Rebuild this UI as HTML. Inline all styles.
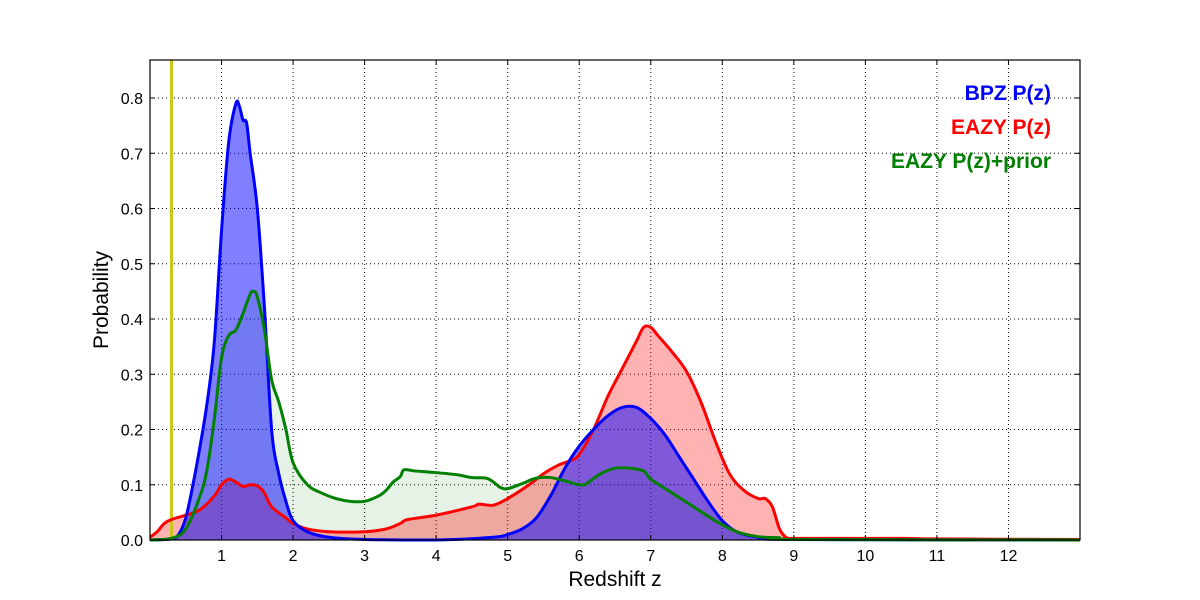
<!DOCTYPE html>
<html><head><meta charset="utf-8"><style>
html,body{margin:0;padding:0;background:#fff;}
svg{display:block;font-family:"Liberation Sans","DejaVu Sans",sans-serif;}
</style></head><body>
<svg id="chart" width="1200" height="600" viewBox="0 0 1200 600">
<g id="grid"></g>
<g id="fills"></g>
<line x1="171.5" y1="60" x2="171.5" y2="540" stroke="#c8c81a" stroke-width="3"/>
<g id="lines"></g>
<rect x="150" y="60" width="930" height="480" fill="none" stroke="#000" stroke-width="1.2"/>
<g id="ticks"></g>
<text x="615" y="586" font-size="21" text-anchor="middle">Redshift z</text>
<text transform="translate(108,300) rotate(-90)" font-size="21" text-anchor="middle">Probability</text>
<g font-size="21" font-weight="bold" text-anchor="end">
<text x="1051" y="100" fill="#0000ff">BPZ P(z)</text>
<text x="1051" y="134" fill="#ff0000">EAZY P(z)</text>
<text x="1051" y="168" fill="#007f00">EAZY P(z)+prior</text>
</g>
</svg>
<script>
const xTicks=[1,2,3,4,5,6,7,8,9,10,11,12];
const yTicks=[0.0,0.1,0.2,0.3,0.4,0.5,0.6,0.7,0.8];
const bpzZ=[0,0.3,0.4,0.5,0.6,0.7,0.8,0.9,1.0,1.1,1.2,1.25,1.3,1.35,1.4,1.5,1.6,1.7,1.8,1.9,2.0,2.2,2.5,3,4,4.8,5,5.2,5.4,5.6,5.8,6.0,6.2,6.4,6.6,6.8,7.0,7.2,7.4,7.6,7.8,8.0,8.2,8.5,9,13];
const bpzP=[0,0.002,0.01,0.04,0.1,0.17,0.25,0.36,0.56,0.72,0.79,0.785,0.76,0.755,0.7,0.6,0.42,0.2,0.12,0.07,0.035,0.015,0.005,0.001,0,0.005,0.01,0.02,0.04,0.08,0.13,0.17,0.2,0.225,0.24,0.24,0.22,0.19,0.15,0.11,0.07,0.035,0.015,0.005,0.001,0];
const eazyZ=[0,0.1,0.2,0.3,0.5,0.7,0.9,1.0,1.1,1.2,1.3,1.4,1.5,1.6,1.7,1.9,2.0,2.2,2.5,3.0,3.3,3.5,3.6,4.0,4.5,4.6,4.8,5.0,5.3,5.5,5.7,5.9,6.0,6.2,6.4,6.6,6.8,6.9,7.0,7.1,7.3,7.5,7.7,7.9,8.1,8.3,8.5,8.6,8.7,8.8,8.9,9.0,10.5,11,13];
const eazyP=[0.005,0.015,0.03,0.037,0.045,0.055,0.08,0.1,0.11,0.105,0.097,0.1,0.098,0.085,0.06,0.04,0.03,0.02,0.015,0.015,0.02,0.03,0.037,0.045,0.06,0.065,0.063,0.075,0.1,0.12,0.135,0.145,0.155,0.2,0.26,0.31,0.36,0.385,0.385,0.37,0.34,0.305,0.25,0.18,0.12,0.09,0.075,0.075,0.06,0.02,0.004,0.003,0.003,0.002,0.001];
const priorZ=[0,0.3,0.5,0.7,0.8,0.9,1.0,1.1,1.2,1.3,1.4,1.45,1.5,1.6,1.7,1.8,1.9,2.0,2.2,2.4,2.6,2.8,3.0,3.2,3.3,3.4,3.5,3.55,3.7,4.0,4.3,4.5,4.7,4.8,4.9,5.0,5.2,5.4,5.6,5.8,6.0,6.1,6.3,6.5,6.7,6.9,7.0,7.3,7.6,7.9,8.2,8.5,8.8,9.0,13];
const priorP=[0,0.003,0.02,0.08,0.13,0.22,0.33,0.37,0.38,0.41,0.445,0.45,0.44,0.38,0.29,0.25,0.2,0.14,0.1,0.085,0.075,0.07,0.07,0.08,0.09,0.105,0.115,0.127,0.125,0.122,0.118,0.113,0.112,0.105,0.095,0.093,0.102,0.112,0.113,0.107,0.1,0.102,0.12,0.13,0.13,0.125,0.11,0.085,0.06,0.035,0.015,0.006,0.004,0.001,0];

const X0=150,X1=1080,Y0=540,Y1=60,ZMAX=13,PMAX=0.8688;
function sx(z){return X0+(z/ZMAX)*(X1-X0);}
function sy(p){return Y0-(p/PMAX)*(Y0-Y1);}
const NS='http://www.w3.org/2000/svg';
function mk(tag,attrs,parent){const e=document.createElementNS(NS,tag);for(const k in attrs)e.setAttribute(k,attrs[k]);parent.appendChild(e);return e;}
function pathD(zs,ps){
  const pts=zs.map((z,i)=>[sx(z),sy(ps[i])]);
  let d='M'+pts[0][0]+','+pts[0][1];
  for(let i=0;i<pts.length-1;i++){
    const p0=pts[Math.max(0,i-1)],p1=pts[i],p2=pts[i+1],p3=pts[Math.min(pts.length-1,i+2)];
    const c1x=p1[0]+(p2[0]-p0[0])/6,c1y=Math.min(Y0,p1[1]+(p2[1]-p0[1])/6);
    const c2x=p2[0]-(p3[0]-p1[0])/6,c2y=Math.min(Y0,p2[1]-(p3[1]-p1[1])/6);
    d+=' C'+c1x+','+c1y+' '+c2x+','+c2y+' '+p2[0]+','+p2[1];
  }
  return d;
}
const grid=document.getElementById('grid'),ticks=document.getElementById('ticks');
xTicks.forEach(t=>{
  const x=sx(t);
  const g=mk('line',{x1:x,y1:Y1,x2:x,y2:Y0,stroke:'#000','stroke-width':1,'stroke-dasharray':'1,3'},grid);
  
  
  mk('line',{x1:x,y1:Y0,x2:x,y2:Y0-5,stroke:'#000'},ticks);
  mk('line',{x1:x,y1:Y1,x2:x,y2:Y1+5,stroke:'#000'},ticks);
  const tx=mk('text',{x:x,y:Y0+21,'font-size':16,'text-anchor':'middle'},ticks);
  tx.textContent=String(t);
  
  
});
yTicks.forEach(t=>{
  const y=sy(t);
  const g=mk('line',{x1:X0,y1:y,x2:X1,y2:y,stroke:'#000','stroke-width':1,'stroke-dasharray':'1,3'},grid);
  
  
  mk('line',{x1:X0,y1:y,x2:X0+5,y2:y,stroke:'#000'},ticks);
  mk('line',{x1:X1,y1:y,x2:X1-5,y2:y,stroke:'#000'},ticks);
  const tx=mk('text',{x:X0-7,y:y+6,'font-size':16,'text-anchor':'end'},ticks);
  tx.textContent=t.toFixed(1);
  
  
});
const series=[
  {z:priorZ,p:priorP,c:'#007f00',o:0.1,n:'eazy-prior'},
  {z:eazyZ,p:eazyP,c:'#ff0000',o:0.3,n:'eazy'},
  {z:bpzZ,p:bpzP,c:'#0000ff',o:0.5,n:'bpz'}
];
const fills=document.getElementById('fills'),lines=document.getElementById('lines');
series.forEach(s=>{
  const d=pathD(s.z,s.p);
  const f=mk('path',{d:d+' L'+sx(s.z[s.z.length-1])+','+Y0+' L'+sx(s.z[0])+','+Y0+' Z',fill:s.c,'fill-opacity':s.o,stroke:'none'},fills);
  
  
});
[series[1],series[2],series[0]].forEach(s=>{
  const l=mk('path',{d:pathD(s.z,s.p),fill:'none',stroke:s.c,'stroke-width':3,'stroke-linejoin':'round'},lines);
  
  
});
</script>
</body></html>
